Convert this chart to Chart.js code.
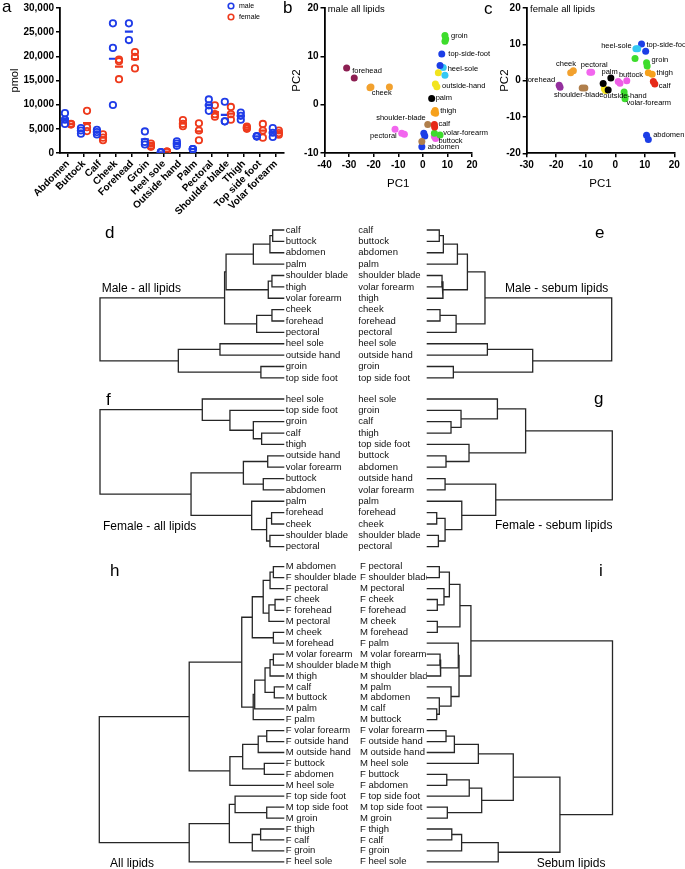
<!DOCTYPE html>
<html>
<head>
<meta charset="utf-8">
<script src="https://cdn.jsdelivr.net/npm/chart.js@4.4.1/dist/chart.umd.min.js"></script>
<style>
  body { margin: 0; background: #fff; }
  #page { position: relative; width: 685px; height: 869px; overflow: hidden;
          font-family: 'Liberation Sans', Arial, sans-serif; color: #000; }
  canvas { position: absolute; }
  .t { position: absolute; white-space: nowrap; line-height: 1; }
</style>
</head>
<body>
<div id="page">
  <canvas id="ca" width="290" height="235" style="left:0;top:0"></canvas>
  <canvas id="cc" width="200" height="200" style="left:485px;top:0"></canvas>
  <canvas id="cb" width="225" height="200" style="left:280px;top:0"></canvas>
  <canvas id="cd" width="270" height="180" style="left:90px;top:215px"></canvas>
  <canvas id="ce" width="270" height="180" style="left:355px;top:215px"></canvas>
  <canvas id="cf" width="270" height="180" style="left:90px;top:385px"></canvas>
  <canvas id="cg" width="270" height="180" style="left:355px;top:385px"></canvas>
  <canvas id="ch" width="270" height="314" style="left:90px;top:555px"></canvas>
  <canvas id="ci" width="270" height="314" style="left:355px;top:555px"></canvas>
</div>
<script>
// ---- panel a: pmol per site, male / female ----
const sites = ['Abdomen', 'Buttock', 'Calf', 'Cheek', 'Forehead', 'Groin', 'Heel sole', 'Outside hand',
               'Palm', 'Pectoral', 'Shoulder blade', 'Thigh', 'Top side foot', 'Volar forearm'];
const malePmol = [
  [8240, 6890, 6010], [5140, 4660, 3990], [4800, 4320, 3850], [26820, 21750, 9930],
  [26820, 23370], [4460, 2300, 1760], [140, 170, 120], [2430, 1960, 1490],
  [810, 790, 830], [11080, 9860, 8720], [10600, 6550, 6550], [8380, 7700, 6890],
  [3450, 3400, 3500], [5140, 4190, 3310]
];
const femalePmol = [
  [5980, 5880, 6050], [8720, 5340, 4530], [3850, 3180, 2640], [19320, 18990, 15270],
  [20880, 19870, 17500], [1960, 1490, 1280], [270, 250, 300], [6820, 6010, 5540],
  [6150, 4660, 2640], [9860, 8040, 7500], [9530, 8040, 6890], [5470, 5000, 5200],
  [6010, 4660, 3180], [4660, 4120, 3780]
];
const pmolTicks = [0, 5000, 10000, 15000, 20000, 25000, 30000];

// ---- panel b: PCA male all lipids ----
const bSite = ['forehead', 'forehead', 'cheek', 'cheek', 'cheek', 'groin', 'groin', 'groin',
  'top-side-foot', 'top-side-foot', 'heel-sole', 'heel-sole', 'outside-hand', 'outside-hand', 'outside-hand',
  'palm', 'thigh', 'thigh', 'thigh', 'calf', 'calf', 'shoulder-blade', 'shoulder-blade',
  'pectoral', 'pectoral', 'pectoral', 'volar-forearm', 'volar-forearm', 'buttock', 'buttock',
  'abdomen', 'abdomen', 'abdomen'];
const bPC1 = [-31.0, -27.9, -21.5, -21.1, -13.6, 9.0, 9.3, 9.0, 7.7, 7.0, 8.3, 9.0, 5.1, 6.3, 5.7,
  3.6, 5.0, 5.2, 4.6, 4.7, 4.8, 2.0, -0.4, -11.3, -8.6, -7.5, 7.0, 4.7, 4.7, 5.2, -0.4, 0.4, 0.8];
const bPC2 = [7.6, 5.5, 3.5, 3.65, 3.65, 14.3, 13.6, 13.1, 10.5, 8.1, 7.7, 6.1, 4.3, 6.6, 3.7,
  1.3, -1.2, -1.8, -1.6, -4.1, -4.6, -4.1, -7.6, -5.1, -5.9, -6.1, -6.3, -5.9, -6.6, -7.0, -8.7, -5.9, -6.5];

// ---- panel c: PCA female all lipids ----
const cSite = ['forehead', 'forehead', 'cheek', 'cheek', 'pectoral', 'pectoral', 'shoulder-blade', 'shoulder-blade',
  'palm', 'palm', 'palm', 'outside-hand', 'outside-hand', 'buttock', 'buttock', 'buttock',
  'volar-forearm', 'volar-forearm', 'volar-forearm', 'heel-sole', 'heel-sole', 'top-side-foot', 'top-side-foot',
  'groin', 'groin', 'groin', 'thigh', 'thigh', 'calf', 'calf', 'abdomen', 'abdomen'];
const cPC1 = [-19.0, -18.7, -15.1, -14.2, -8.6, -8.0, -11.2, -10.3, -1.5, -4.1, -2.4, -3.7, -3.3,
  1.0, 1.6, 3.9, 3.0, 3.3, 3.3, 7.0, 7.6, 8.9, 10.3, 10.6, 6.7, 10.8, 12.5, 11.2, 13.4, 12.9, 10.6, 11.2];
const cPC2 = [-1.3, -1.8, 2.2, 2.75, 2.3, 2.3, -2.0, -2.0, 0.7, -0.8, -2.6, -2.2, -2.7,
  -0.2, -0.7, 0.0, -3.1, -4.3, -5.0, 8.8, 8.8, 10.1, 8.1, 4.9, 6.1, 4.0, 1.75, 2.2, -0.9, -0.2, -15.0, -16.2];

// ---- dendrograms: leaf order + merges [a, b, height] (a,b: leaf index or n+merge index) ----
const dLeaves = ['calf', 'buttock', 'abdomen', 'palm', 'shoulder blade', 'thigh', 'volar forearm',
  'cheek', 'forehead', 'pectoral', 'heel sole', 'outside hand', 'groin', 'top side foot'];
const dMerges = [[0, 1, 6.3], [14, 2, 7.8], [15, 3, 16.8], [4, 5, 6.7], [17, 6, 8.7], [16, 18, 31.6],
  [7, 8, 6.7], [20, 9, 15.0], [19, 21, 32.4], [10, 11, 34.9], [12, 13, 12.7], [23, 24, 57.5], [22, 25, 100]];

const eLeaves = ['calf', 'buttock', 'abdomen', 'palm', 'shoulder blade', 'volar forearm', 'thigh',
  'cheek', 'forehead', 'pectoral', 'heel sole', 'outside hand', 'groin', 'top side foot'];
const eMerges = [[0, 1, 6.8], [14, 2, 9.0], [15, 3, 16.6], [4, 5, 8.3], [17, 6, 8.8], [16, 18, 22.0],
  [7, 8, 7.2], [20, 9, 15.9], [19, 21, 31.5], [10, 11, 32.8], [12, 13, 14.4], [23, 24, 57.3], [22, 25, 100]];

const fLeaves = ['heel sole', 'top side foot', 'groin', 'calf', 'thigh', 'outside hand', 'volar forearm',
  'buttock', 'abdomen', 'palm', 'forehead', 'cheek', 'shoulder blade', 'pectoral'];
const fMerges = [[3, 4, 12.3], [2, 14, 16.8], [1, 15, 29.5], [0, 16, 44.5], [5, 6, 9.0], [7, 8, 11.4],
  [18, 19, 22.2], [10, 11, 6.9], [12, 13, 7.8], [21, 22, 9.6], [9, 23, 17.7], [20, 24, 50.6], [17, 25, 100]];

const gLeaves = ['heel sole', 'groin', 'calf', 'thigh', 'top side foot', 'buttock', 'abdomen',
  'outside hand', 'volar forearm', 'palm', 'forehead', 'cheek', 'shoulder blade', 'pectoral'];
const gMerges = [[2, 3, 13.1], [1, 14, 18.5], [0, 15, 38.1], [5, 6, 10.4], [4, 17, 22.8], [16, 18, 53.3],
  [7, 8, 9.9], [10, 11, 5.4], [12, 13, 6.3], [21, 22, 9.9], [9, 23, 18.9], [20, 24, 37.2], [19, 25, 100]];

const hLeaves = ['M abdomen', 'F shoulder blade', 'F pectoral', 'F cheek', 'F forehead', 'M pectoral',
  'M cheek', 'M forehead', 'M volar forearm', 'M shoulder blade', 'M thigh', 'M calf', 'M buttock',
  'M palm', 'F palm', 'F volar forearm', 'F outside hand', 'M outside hand', 'F buttock', 'F abdomen',
  'M heel sole', 'F top side foot', 'M top side foot', 'M groin', 'F thigh', 'F calf', 'F groin', 'F heel sole'];
const hMerges = [[0, 1, 5.9], [28, 2, 7.7], [3, 4, 5.0], [30, 5, 8.3], [29, 31, 11.4], [6, 7, 5.9],
  [32, 33, 17.3], [8, 9, 5.9], [35, 10, 7.7], [11, 12, 5.4], [36, 37, 10.4], [38, 13, 16.0], [39, 14, 16.8],
  [34, 40, 23.0], [15, 16, 9.5], [42, 17, 14.1], [18, 19, 10.8], [43, 44, 22.5], [45, 20, 29.4],
  [41, 46, 51.4], [22, 23, 9.5], [21, 48, 26.6], [24, 25, 12.8], [50, 26, 17.3], [49, 51, 29.7],
  [52, 27, 51.4], [47, 53, 100]];

const iLeaves = ['F pectoral', 'F shoulder blade', 'M pectoral', 'F cheek', 'F forehead', 'M cheek',
  'M forehead', 'F palm', 'M volar forearm', 'M thigh', 'M shoulder blade', 'M palm', 'M abdomen',
  'M calf', 'M buttock', 'F volar forearm', 'F outside hand', 'M outside hand', 'M heel sole',
  'F buttock', 'F abdomen', 'F top side foot', 'M top side foot', 'M groin', 'F thigh', 'F calf',
  'F groin', 'F heel sole'];
const iMerges = [[0, 1, 6.8], [3, 4, 5.7], [2, 29, 9.3], [28, 30, 12.2], [5, 6, 5.7], [31, 32, 17.9],
  [8, 9, 7.2], [34, 10, 7.5], [7, 35, 17.0], [13, 14, 5.4], [12, 37, 6.8], [11, 38, 13.1], [36, 39, 17.4],
  [33, 40, 23.8], [15, 16, 10.4], [42, 17, 14.9], [43, 18, 27.8], [19, 20, 10.8], [45, 21, 22.9],
  [22, 23, 11.1], [46, 47, 29.6], [44, 48, 46.6], [24, 25, 13.5], [50, 26, 18.8], [51, 27, 38.5],
  [49, 52, 71.7], [41, 53, 100]];

// ---- styles ----
const FONT = "'Liberation Sans', Arial, sans-serif";
Chart.defaults.font.family = FONT;
Chart.defaults.color = '#000';
Chart.defaults.animation = false;
Chart.defaults.responsive = false;
Chart.defaults.plugins.legend.display = false;
Chart.defaults.plugins.tooltip.enabled = false;

const BLUE = '#1f3ce8';
const RED = '#ee3a1c';
const siteColor = {
  'abdomen': '#1c3ee6', 'buttock': '#ee5fe6', 'calf': '#e62a18', 'cheek': '#f2a12e',
  'forehead': '#8c1f52', 'groin': '#3ddc2c', 'heel-sole': '#35c8f2', 'outside-hand': '#f2e41e',
  'palm': '#000000', 'pectoral': '#f266ee', 'shoulder-blade': '#b07f4c', 'thigh': '#f6a11c',
  'top-side-foot': '#1c3ee6', 'volar-forearm': '#3ddc2c'
};
const cColor = Object.assign({}, siteColor, { 'forehead': '#94309e' });

// label offsets (px) from the first point of each site group
const bLabelPos = {
  'forehead': [5.6, 3.3, 'left'], 'cheek': [1.7, 5, 'left'], 'groin': [6, 0.7, 'left'],
  'top-side-foot': [6.6, 0, 'left'], 'heel-sole': [4.4, 1.3, 'left'], 'outside-hand': [6.7, 2.3, 'left'],
  'palm': [4, 0, 'left'], 'thigh': [5, 0.7, 'left'], 'calf': [4, -0.7, 'left'],
  'shoulder-blade': [-2, -6.7, 'right'], 'pectoral': [1.7, 6.7, 'right'], 'volar-forearm': [3.3, -1.7, 'left'],
  'buttock': [4, 4, 'left'], 'abdomen': [6, 0.6, 'left']
};
const cLabelPos = {
  'forehead': [-4, -5, 'right'], 'cheek': [-14.7, -8.3, 'left'], 'pectoral': [-9, -7.4, 'left'],
  'shoulder-blade': [-28.3, 7.3, 'left'], 'palm': [-9.3, -6, 'left'], 'outside-hand': [-1, 7.7, 'left'],
  'buttock': [0.7, -6.7, 'left'], 'volar-forearm': [2.4, 11, 'left'], 'heel-sole': [-4.3, -2.4, 'right'],
  'top-side-foot': [5, 1, 'left'], 'groin': [5, -2.7, 'left'], 'thigh': [4.4, -1, 'left'],
  'calf': [4, 2.3, 'left'], 'abdomen': [6.6, 0, 'left']
};

// ---- panel a ----
const sexOffset = 0.19;
function spread(vals, dx) {
  const out = [];
  vals.forEach((arr, i) => arr.forEach(v => out.push({ x: i + dx, y: v })));
  return out;
}
function means(vals, dx) {
  return vals.map((arr, i) => ({ x: i + dx, y: arr.reduce((s, v) => s + v, 0) / arr.length }));
}

const sexLegend = {
  id: 'sexLegend',
  afterDraw(chart) {
    const ctx = chart.ctx;
    ctx.save();
    ctx.font = '7px ' + FONT;
    ctx.textBaseline = 'middle';
    ctx.fillStyle = '#000';
    [['male', BLUE, 6], ['female', RED, 17]].forEach(([txt, col, y]) => {
      ctx.beginPath();
      ctx.arc(231, y, 2.8, 0, Math.PI * 2);
      ctx.lineWidth = 1.6;
      ctx.strokeStyle = col;
      ctx.stroke();
      ctx.fillText(txt, 239, y);
    });
    ctx.restore();
  }
};

const axisGrid = { drawOnChartArea: false, color: '#000', lineWidth: 1.5, tickLength: 4 };
const axisBorder = { color: '#000', width: 1.8 };
const boldTick = { size: 10, weight: 'bold' };

new Chart(document.getElementById('ca'), {
  type: 'scatter',
  data: {
    datasets: [
      { data: spread(malePmol, -sexOffset), pointRadius: 3.2, pointBorderWidth: 1.8,
        borderColor: BLUE, backgroundColor: 'rgba(255,255,255,0)' },
      { data: spread(femalePmol, sexOffset), pointRadius: 3.2, pointBorderWidth: 1.8,
        borderColor: RED, backgroundColor: 'rgba(255,255,255,0)' },
      { data: means(malePmol, -sexOffset), pointStyle: 'line', pointRadius: 4, pointBorderWidth: 2.2,
        borderColor: BLUE },
      { data: means(femalePmol, sexOffset), pointStyle: 'line', pointRadius: 4, pointBorderWidth: 2.2,
        borderColor: RED }
    ]
  },
  options: {
    layout: { padding: { left: 0, right: 6, top: 5, bottom: 0 } },
    scales: {
      x: {
        type: 'linear', min: -0.5, max: 13.5,
        afterBuildTicks: s => { s.ticks = sites.map((_, i) => ({ value: i })); },
        ticks: { callback: v => sites[v], autoSkip: false, minRotation: 45, maxRotation: 45,
                 font: boldTick, padding: 1 },
        grid: axisGrid, border: axisBorder,
        afterFit: s => { s.height = 82; }
      },
      y: {
        min: 0, max: 30000,
        afterBuildTicks: s => { s.ticks = pmolTicks.map(v => ({ value: v })); },
        ticks: { callback: v => v.toLocaleString('en-US'), font: boldTick, padding: 2 },
        grid: axisGrid, border: axisBorder,
        title: { display: true, text: 'pmol', font: { size: 11 }, padding: { top: 8, bottom: 0 } },
        afterFit: s => { s.width = 60; }
      }
    }
  },
  plugins: [sexLegend]
});

// ---- panels b, c ----
function siteGroups(site, pc1, pc2, colors, labelPos) {
  const names = [...new Set(site)];
  return names.map(n => ({
    label: n,
    data: site.map((s, i) => (s === n ? { x: pc1[i], y: pc2[i] } : null)).filter(Boolean),
    backgroundColor: colors[n], borderWidth: 0, pointRadius: 3.5,
    labelPos: labelPos[n]
  }));
}

const pointLabels = {
  id: 'pointLabels',
  afterDatasetsDraw(chart) {
    const ctx = chart.ctx;
    ctx.save();
    ctx.font = '7.5px ' + FONT;
    ctx.fillStyle = '#000';
    ctx.textBaseline = 'middle';
    chart.data.datasets.forEach((ds, i) => {
      const p = chart.getDatasetMeta(i).data[0];
      const [dx, dy, align] = ds.labelPos;
      ctx.textAlign = align;
      ctx.fillText(ds.label, p.x + dx, p.y + dy);
    });
    ctx.restore();
  }
};

function pcaChart(id, datasets, xr, yr, pad, yW, xH, yTitlePad, xTitlePad) {
  return new Chart(document.getElementById(id), {
    type: 'scatter',
    data: { datasets },
    options: {
      layout: { padding: pad },
      scales: {
        x: {
          min: xr[0], max: xr[1],
          ticks: { stepSize: 10, font: boldTick, padding: 2 },
          grid: axisGrid, border: axisBorder,
          title: { display: true, text: 'PC1', font: { size: 11.5 }, padding: { top: 0, bottom: xTitlePad } },
          afterFit: s => { s.height = xH; }
        },
        y: {
          min: yr[0], max: yr[1],
          ticks: { stepSize: 10, font: boldTick, padding: 2 },
          grid: axisGrid, border: axisBorder,
          title: { display: true, text: 'PC2', font: { size: 11.5 }, padding: { top: yTitlePad, bottom: 0 } },
          afterFit: s => { s.width = yW; }
        }
      }
    },
    plugins: [pointLabels]
  });
}

pcaChart('cb', siteGroups(bSite, bPC1, bPC2, siteColor, bLabelPos), [-40, 20], [-10, 20],
  { left: 0, right: 33, top: 5, bottom: 0 }, 44.5, 47, 9.6, 9.2);
pcaChart('cc', siteGroups(cSite, cPC1, cPC2, cColor, cLabelPos), [-30, 20], [-20, 20],
  { left: 0, right: 10.7, top: 5, bottom: 0 }, 41.7, 46.7, 12.6, 9.4);

// ---- dendrograms ----
function dendroSets(leaves, merges) {
  const pos = leaves.map((_, i) => i);
  const hgt = leaves.map(() => 0);
  return merges.map(([a, b, h]) => {
    const ds = {
      data: [{ x: hgt[a], y: pos[a] }, { x: h, y: pos[a] }, { x: h, y: pos[b] }, { x: hgt[b], y: pos[b] }],
      showLine: true, borderColor: '#262626', borderWidth: 1.3, pointRadius: 0, clip: false
    };
    pos.push((pos[a] + pos[b]) / 2);
    hgt.push(h);
    return ds;
  });
}

function dendroChart(id, leaves, merges, side, pad, axisW) {
  const treeLeft = side === 'left';
  return new Chart(document.getElementById(id), {
    type: 'scatter',
    data: { datasets: dendroSets(leaves, merges) },
    options: {
      layout: { padding: pad },
      scales: {
        x: { type: 'linear', min: 0, max: 100, reverse: treeLeft, display: false },
        y: {
          type: 'linear', min: 0, max: leaves.length - 1, reverse: true,
          position: treeLeft ? 'right' : 'left',
          afterBuildTicks: s => { s.ticks = leaves.map((_, i) => ({ value: i })); },
          ticks: { autoSkip: false, callback: v => leaves[v], font: { size: 9.5 }, color: '#111',
                   padding: 1.5, crossAlign: treeLeft ? 'near' : 'far' },
          grid: { display: false, drawTicks: false },
          border: { display: false },
          afterFit: s => { s.width = axisW; }
        }
      }
    }
  });
}

dendroChart('cd', dLeaves, dMerges, 'left', { left: 10, right: 0, top: 15, bottom: 17.1 }, 75.7);
dendroChart('ce', eLeaves, eMerges, 'right', { left: 3.3, right: 13.3, top: 15, bottom: 17.1 }, 68.4);
dendroChart('cf', fLeaves, fMerges, 'left', { left: 10, right: 0, top: 14, bottom: 18.3 }, 75.7);
dendroChart('cg', gLeaves, gMerges, 'right', { left: 3.3, right: 12.7, top: 14, bottom: 18.3 }, 68.4);
dendroChart('ch', hLeaves, hMerges, 'left', { left: 9.3, right: 0, top: 11.7, bottom: 6.4 }, 75.7);
dendroChart('ci', iLeaves, iMerges, 'right', { left: 5, right: 12.5, top: 11.7, bottom: 6.4 }, 66.7);

// ---- text annotations: [text, left, baseline, size] ----
const notes = [
  ['a', 2, 12.7, 17], ['b', 283, 13.3, 17], ['c', 484, 14, 17],
  ['d', 105, 238.3, 17], ['e', 595, 238.3, 17], ['f', 106, 405, 17], ['g', 594, 404, 17],
  ['h', 110, 576.7, 17], ['i', 599, 576, 17],
  ['male all lipids', 327.7, 11.7, 9.5], ['female all lipids', 530, 12.3, 9.5],
  ['Male - all lipids', 101.7, 292.3, 12], ['Male - sebum lipids', 505, 291.7, 12],
  ['Female - all lipids', 103, 530, 12], ['Female - sebum lipids', 495, 529.3, 12],
  ['All lipids', 110, 866.7, 12], ['Sebum lipids', 536.7, 866.7, 12]
];
const page = document.getElementById('page');
notes.forEach(([txt, x, base, size]) => {
  const el = document.createElement('div');
  el.className = 't';
  el.textContent = txt;
  el.style.left = x + 'px';
  el.style.top = (base - 0.8465 * size) + 'px';
  el.style.fontSize = size + 'px';
  page.appendChild(el);
});
</script>
</body>
</html>
